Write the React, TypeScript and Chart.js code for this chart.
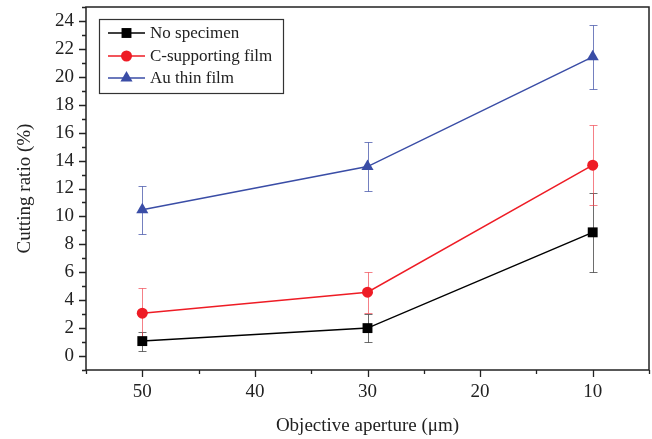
import React, { useEffect, useRef } from "react";
import { Chart, registerables } from "chart.js";
Chart.register(...registerables);

const apertures = [50, 30, 10];
const seriesNames = ["No specimen", "C-supporting film", "Au thin film"];
const noSpecimen = [1.07, 2.0, 8.86];
const noSpecimenErr = [0.68, 1.0, 2.85];
const cFilm = [3.07, 4.57, 13.67];
const cFilmErr = [1.77, 1.47, 2.88];
const auFilm = [10.48, 13.57, 21.43];
const auFilmErr = [1.73, 1.73, 2.3];
const xTicks = [50, 40, 30, 20, 10];
const xMinorTicks = [55, 45, 35, 25, 15, 5];
const yTicks = [0, 2, 4, 6, 8, 10, 12, 14, 16, 18, 20, 22, 24];
const yMinorTicks = [-1, 1, 3, 5, 7, 9, 11, 13, 15, 17, 19, 21, 23, 25];

const colors = ["#000000", "#ee1c25", "#3a4da6"];
const errColors = ["rgba(60,60,60,0.75)", "rgba(240,60,70,0.65)", "rgba(70,85,170,0.75)"];
const shapes = ["rect", "circle", "triangle"];
const radii = [7, 5.5, 7];
const FONT = "'Liberation Serif', 'Times New Roman', serif";

function drawMarker(ctx: CanvasRenderingContext2D, shape: string, x: number, y: number, r: number, color: string) {
  ctx.save();
  ctx.fillStyle = color;
  ctx.beginPath();
  if (shape === "rect") {
    const s = Math.SQRT1_2 * r;
    ctx.rect(x - s, y - s, 2 * s, 2 * s);
  } else if (shape === "circle") {
    ctx.arc(x, y, r, 0, Math.PI * 2);
  } else {
    let rad = 0;
    ctx.moveTo(x + Math.sin(rad) * r, y - Math.cos(rad) * r);
    rad += (2 * Math.PI) / 3;
    ctx.lineTo(x + Math.sin(rad) * r, y - Math.cos(rad) * r);
    rad += (2 * Math.PI) / 3;
    ctx.lineTo(x + Math.sin(rad) * r, y - Math.cos(rad) * r);
    ctx.closePath();
  }
  ctx.fill();
  ctx.restore();
}

const errorBarPlugin = {
  id: "errorBars",
  beforeDatasetsDraw(chart: any) {
    const ctx = chart.ctx;
    const xs = chart.scales.x;
    const ys = chart.scales.y;
    const errs = [noSpecimenErr, cFilmErr, auFilmErr];
    const vals = [noSpecimen, cFilm, auFilm];
    ctx.save();
    ctx.lineWidth = 1;
    for (let d = 0; d < 3; d++) {
      ctx.strokeStyle = errColors[d];
      for (let i = 0; i < apertures.length; i++) {
        const px = Math.round(xs.getPixelForValue(apertures[i])) + 0.5;
        const top = Math.round(ys.getPixelForValue(vals[d][i] + errs[d][i])) + 0.5;
        const bot = Math.round(ys.getPixelForValue(vals[d][i] - errs[d][i])) + 0.5;
        ctx.beginPath();
        ctx.moveTo(px, top);
        ctx.lineTo(px, bot);
        ctx.moveTo(px - 4, top);
        ctx.lineTo(px + 4, top);
        ctx.moveTo(px - 4, bot);
        ctx.lineTo(px + 4, bot);
        ctx.stroke();
      }
    }
    ctx.restore();
  },
};

const framePlugin = {
  id: "frame",
  afterDraw(chart: any) {
    const ctx = chart.ctx;
    const { left, right, top, bottom } = chart.chartArea;
    const xs = chart.scales.x;
    const ys = chart.scales.y;
    ctx.save();
    ctx.strokeStyle = "#222";
    ctx.lineWidth = 1.5;
    ctx.strokeRect(left, top, right - left, bottom - top);
    ctx.lineWidth = 1.3;
    ctx.beginPath();
    for (const v of yTicks) {
      const y = Math.round(ys.getPixelForValue(v)) + 0.5;
      ctx.moveTo(left - 7, y);
      ctx.lineTo(left, y);
    }
    for (const v of yMinorTicks) {
      const y = Math.round(ys.getPixelForValue(v)) + 0.5;
      ctx.moveTo(left - 4, y);
      ctx.lineTo(left, y);
    }
    for (const v of xTicks) {
      const x = Math.round(xs.getPixelForValue(v)) + 0.5;
      ctx.moveTo(x, bottom);
      ctx.lineTo(x, bottom + 7);
    }
    for (const v of xMinorTicks) {
      const x = Math.round(xs.getPixelForValue(v)) + 0.5;
      ctx.moveTo(x, bottom);
      ctx.lineTo(x, bottom + 4);
    }
    ctx.stroke();

    // legend
    const bx = 99, by = 19, bw = 184, bh = 74;
    ctx.fillStyle = "#fff";
    ctx.fillRect(bx, by, bw, bh);
    ctx.strokeStyle = "#333";
    ctx.lineWidth = 1.2;
    ctx.strokeRect(bx + 0.5, by + 0.5, bw, bh);
    const rows = [33, 56, 78];
    ctx.font = `17px ${FONT}`;
    ctx.textBaseline = "middle";
    ctx.textAlign = "left";
    for (let d = 0; d < 3; d++) {
      const y = rows[d];
      ctx.strokeStyle = colors[d];
      ctx.lineWidth = 1.5;
      ctx.beginPath();
      ctx.moveTo(108, y);
      ctx.lineTo(145, y);
      ctx.stroke();
      drawMarker(ctx, shapes[d], 126.5, y, radii[d], colors[d]);
      ctx.fillStyle = "#222";
      ctx.fillText(seriesNames[d], 150, y + 1);
    }
    ctx.restore();
  },
};

export default function App() {
  const ref = useRef<HTMLCanvasElement | null>(null);
  useEffect(() => {
    if (!ref.current) return;
    const series = [noSpecimen, cFilm, auFilm];
    const chart = new Chart(ref.current, {
      type: "line",
      data: {
        datasets: series.map((vals, d) => ({
          label: seriesNames[d],
          data: apertures.map((x, i) => ({ x, y: vals[i] })),
          borderColor: colors[d],
          backgroundColor: colors[d],
          borderWidth: 1.5,
          pointStyle: shapes[d] as any,
          pointRadius: radii[d],
          pointBorderWidth: 0,
          pointBackgroundColor: colors[d],
          pointBorderColor: colors[d],
          tension: 0,
        })),
      },
      options: {
        animation: false,
        responsive: false,
        devicePixelRatio: 1,
        layout: { autoPadding: false, padding: { top: 7, right: 3, left: 0, bottom: 0 } },
        plugins: { legend: { display: false }, tooltip: { enabled: false } },
        scales: {
          x: {
            type: "linear",
            min: 5,
            max: 55,
            reverse: true,
            afterBuildTicks: (s: any) => {
              s.ticks = xTicks.map((v) => ({ value: v }));
            },
            afterFit: (s: any) => {
              s.height = 69;
              s.paddingLeft = 0;
              s.paddingRight = 0;
            },
            grid: { display: false, drawTicks: false, tickLength: 0 },
            border: { display: false },
            ticks: {
              autoSkip: false,
              maxRotation: 0,
              padding: 11,
              color: "#222",
              font: { family: FONT, size: 19 },
            },
            title: {
              display: true,
              text: "Objective aperture (μm)",
              color: "#222",
              font: { family: FONT, size: 19 },
              padding: { top: 0, bottom: 2 },
            },
          },
          y: {
            type: "linear",
            min: -1,
            max: 25,
            afterBuildTicks: (s: any) => {
              s.ticks = yTicks.map((v) => ({ value: v }));
            },
            afterFit: (s: any) => {
              s.width = 86;
              s.paddingTop = 0;
              s.paddingBottom = 0;
            },
            grid: { display: false, drawTicks: false, tickLength: 0 },
            border: { display: false },
            ticks: {
              autoSkip: false,
              padding: 12,
              color: "#222",
              font: { family: FONT, size: 19 },
            },
            title: {
              display: true,
              text: "Cutting ratio (%)",
              color: "#222",
              font: { family: FONT, size: 19 },
              padding: { top: 14, bottom: 0 },
            },
          },
        },
      },
      plugins: [errorBarPlugin, framePlugin],
    });
    return () => chart.destroy();
  }, []);
  return (
    <div style={{ position: "absolute", left: 0, top: 0, width: 652, height: 439, background: "#fff" }}>
      <canvas ref={ref} width={652} height={439} style={{ display: "block" }} />
    </div>
  );
}
